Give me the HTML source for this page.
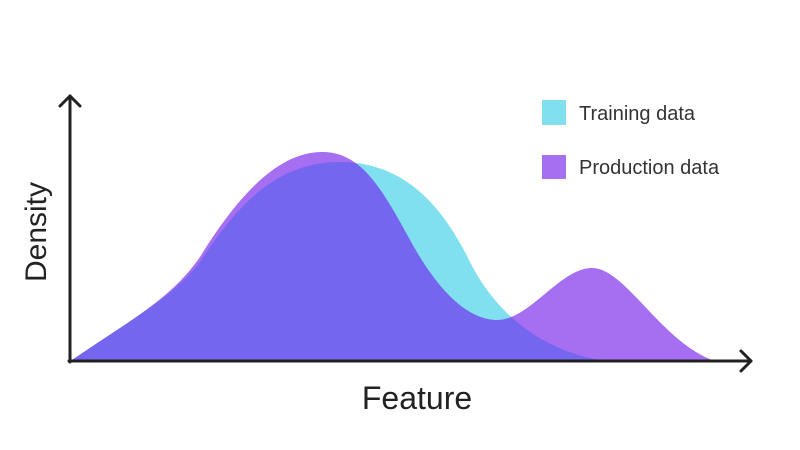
<!DOCTYPE html>
<html><head><meta charset="utf-8"><style>
html,body{margin:0;padding:0;background:#fff;}
svg{display:block;}
text{font-family:"Liberation Sans","DejaVu Sans",sans-serif;}
</style></head><body>
<svg width="800" height="450" viewBox="0 0 800 450" xmlns="http://www.w3.org/2000/svg">
<defs>
<clipPath id="tr"><path d="M72,360 C130,320 170,300 200,262 C240,200 280,162 340,162 C400,162 440,200 470,262 C495,312 540,350 600,360 Z"/></clipPath>
</defs>
<path fill="#80e0f0" d="M72,360 C130,320 170,300 200,262 C240,200 280,162 340,162 C400,162 440,200 470,262 C495,312 540,350 600,360 Z"/>
<path fill="#a66ef0" d="M72,360 C130,320 170,300 200,257 C240,192 280,152 322,152 C360,152 380,185 410,240 C440,295 470,320 497,320 C530,320 560,268 592,268 C625,268 660,340 712,360 Z"/>
<path fill="#7466ee" clip-path="url(#tr)" d="M72,360 C130,320 170,300 200,257 C240,192 280,152 322,152 C360,152 380,185 410,240 C440,295 470,320 497,320 C530,320 560,268 592,268 C625,268 660,340 712,360 Z"/>
<g stroke="#222" stroke-width="3" fill="none" stroke-linecap="round" stroke-linejoin="round">
<path d="M70,362 V96"/>
<path d="M60,106 L70,96 L80,106"/>
<path d="M69,361 H751"/>
<path d="M741,351 L751,361 L741,371"/>
</g>
<text x="38" y="232" font-size="30" fill="#222" text-anchor="middle" transform="rotate(-90 38 232)" dominant-baseline="middle">Density</text>
<text x="417" y="409" font-size="32" fill="#222" text-anchor="middle">Feature</text>
<rect x="542" y="100" width="24" height="25" fill="#80e0f0"/>
<rect x="542" y="155" width="24" height="24" fill="#a66ef0"/>
<text x="579" y="120" font-size="20" fill="#333">Training data</text>
<text x="579" y="174" font-size="20" fill="#333">Production data</text>
</svg>
</body></html>
